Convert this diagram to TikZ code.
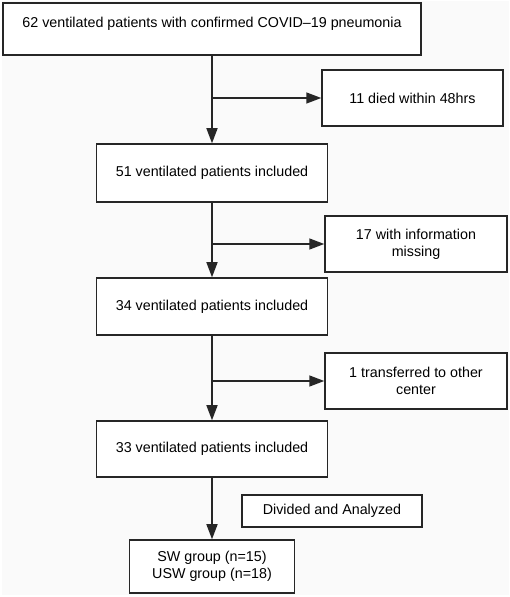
\documentclass[tikz,border=0pt]{standalone}
\usepackage{fontspec}
\setmainfont{Liberation Sans}
\usetikzlibrary{arrows.meta}
\definecolor{linec}{HTML}{262626}
\definecolor{bgc}{HTML}{FAFAFA}
\begin{document}
\begin{tikzpicture}[x=1pt,y=1pt,
  box/.style={draw=linec, line width=1.5pt, fill=white, rectangle, inner sep=0pt,
    align=center, font=\fontsize{14.3}{17}\selectfont, text=black},
  flow/.style={draw=linec, line width=1.5pt, -{Triangle[length=15pt,width=11pt]}}]
\useasboundingbox (0,0) rectangle (510,597);
\fill[white] (0,0) rectangle (510,597);
\fill[bgc] (1.5,1.5) rectangle (508.5,595.5);

\node[box, minimum width=418pt, text height=25pt, text depth=27pt] (b1) at (212,568) {62 ventilated patients with confirmed COVID–19 pneumonia};
\node[box, minimum width=181pt, minimum height=56pt] (d1) at (412.5,499) {11 died within 48hrs};
\node[box, minimum width=231pt, minimum height=58pt] (b2) at (212,424) {51 ventilated patients included};
\node[box, minimum width=182pt, minimum height=56pt] (d2) at (416,353) {17 with information\\missing};
\node[box, minimum width=231pt, minimum height=57pt] (b3) at (212,290.5) {34 ventilated patients included};
\node[box, minimum width=182pt, minimum height=56pt] (d3) at (416,216) {1 transferred to other\\center};
\node[box, minimum width=231pt, minimum height=56pt] (b4) at (212,148) {33 ventilated patients included};
\node[box, minimum width=180pt, minimum height=32pt] (da) at (332,86) {Divided and Analyzed};
\node[box, minimum width=165pt, minimum height=53pt] (b5) at (212,30.5) {SW group (n=15)\\USW group (n=18)};

\coordinate (j1) at (b1.south |- d1.west);
\coordinate (j2) at (b2.south |- d2.west);
\coordinate (j3) at (b3.south |- d3.west);

\draw[flow] (b1.south) -- (b2.north);
\draw[flow] (j1) -- (d1.west);
\draw[flow] (b2.south) -- (b3.north);
\draw[flow] (j2) -- (d2.west);
\draw[flow] (b3.south) -- (b4.north);
\draw[flow] (j3) -- (d3.west);
\draw[flow] (b4.south) -- (b5.north);
\end{tikzpicture}
\end{document}
